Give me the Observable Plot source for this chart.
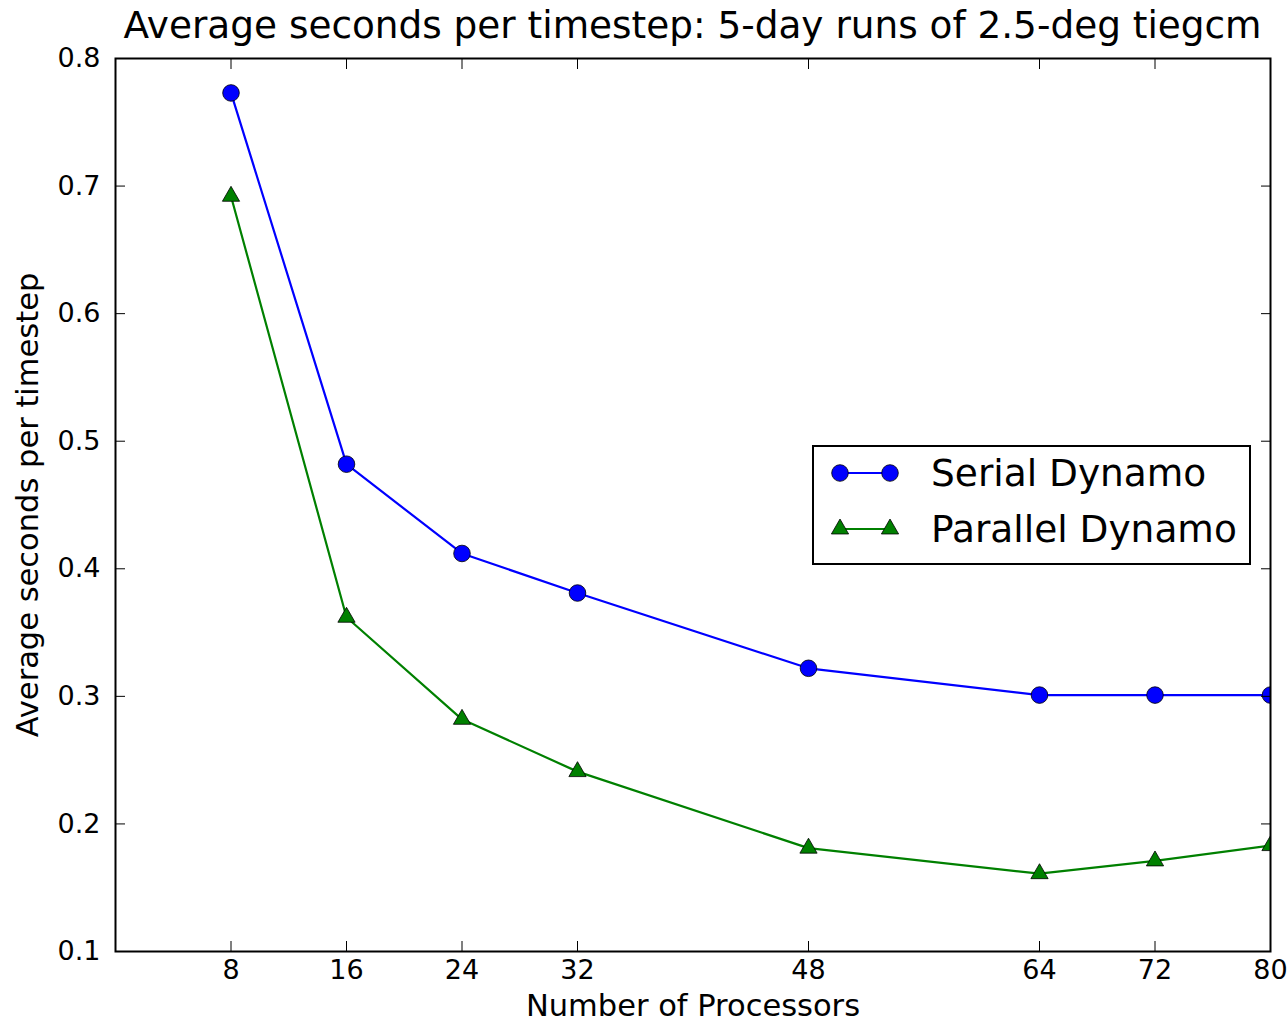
<!DOCTYPE html>
<html><head><meta charset="utf-8">
<script src="https://cdn.jsdelivr.net/npm/d3@7"></script>
<script src="https://cdn.jsdelivr.net/npm/@observablehq/plot@0.6"></script>
<style>
body{margin:0;background:#fff;font-family:"DejaVu Sans",sans-serif;}
#wrap{position:relative;width:1287px;height:1021px;overflow:hidden;}
#chart{position:absolute;left:0;top:0;}
#title{position:absolute;left:115px;top:0;width:1155px;height:50px;line-height:50px;text-align:center;font-size:37.4px;color:#000;white-space:nowrap;z-index:2;}
#legend{position:absolute;left:812px;top:445px;width:435px;height:116px;border:2px solid #000;background:#fff;z-index:2;}
#legend svg{display:block;}
</style></head><body>
<div id="wrap"><div id="chart"></div><div id="title"></div><div id="legend"></div></div>
<script>
const titleText = "Average seconds per timestep: 5-day runs of 2.5-deg tiegcm";
const xLabel = "Number of Processors";
const yLabel = "Average seconds per timestep";
const processors = [8, 16, 24, 32, 48, 64, 72, 80];
const serialDynamo = [0.773, 0.482, 0.412, 0.381, 0.322, 0.301, 0.301, 0.301];
const parallelDynamo = [0.692, 0.362, 0.282, 0.241, 0.181, 0.161, 0.171, 0.183];
const xTicks = [8, 16, 24, 32, 48, 64, 72, 80];
const yTicks = [0.1, 0.2, 0.3, 0.4, 0.5, 0.6, 0.7, 0.8];
const seriesNames = ["Serial Dynamo", "Parallel Dynamo"];
const seriesColors = ["#0000ff", "#008000"];
const seriesSymbols = ["circle", "triangle"];

document.getElementById("title").textContent = titleText;

const serialRows = processors.map((p, i) => ({x: p, y: serialDynamo[i]}));
const parallelRows = processors.map((p, i) => ({x: p, y: parallelDynamo[i]}));

const chart = Plot.plot({
  width: 1287,
  height: 1021,
  marginTop: 58,
  marginBottom: 70,
  marginLeft: 115,
  marginRight: 17,
  style: {fontFamily: "DejaVu Sans", fontSize: "27px", color: "black", background: "white", overflow: "visible"},
  x: {domain: [0, 80]},
  y: {domain: [0.1, 0.8]},
  marks: [
    Plot.line(serialRows, {x: "x", y: "y", stroke: seriesColors[0], strokeWidth: 2.2, clip: true}),
    Plot.line(parallelRows, {x: "x", y: "y", stroke: seriesColors[1], strokeWidth: 2.2, clip: true}),
    Plot.dot(serialRows, {x: "x", y: "y", symbol: seriesSymbols[0], r: 8.3, fill: seriesColors[0], stroke: "black", strokeWidth: 0.8, clip: true}),
    Plot.dot(parallelRows, {x: "x", y: "y", symbol: seriesSymbols[1], r: 6.4, fill: seriesColors[1], stroke: "black", strokeWidth: 0.8, clip: true}),
    Plot.axisX(xTicks, {anchor: "bottom", tickSize: -10, tickPadding: 18, label: null, fontSize: 27}),
    Plot.axisX(xTicks, {anchor: "top", tickSize: -10, tickFormat: () => "", label: null}),
    Plot.axisY(yTicks, {anchor: "left", tickSize: -10, tickPadding: 25, tickFormat: d3.format(".1f"), label: null, fontSize: 27}),
    Plot.axisY(yTicks, {anchor: "right", tickSize: -10, tickFormat: () => "", label: null}),
    Plot.frame({stroke: "black", strokeWidth: 2}),
    Plot.text([xLabel], {frameAnchor: "bottom", dy: 64, fontSize: 30.5, fill: "black", textAnchor: "middle"}),
    Plot.text([yLabel], {frameAnchor: "left", rotate: -90, dx: -87, fontSize: 30.5, fill: "black", textAnchor: "middle"})
  ]
});
document.getElementById("chart").appendChild(chart);

// legend
const lg = d3.select("#legend").append("svg").attr("width", 435).attr("height", 116);
const rowsY = [26, 82];
seriesNames.forEach((name, i) => {
  const y = rowsY[i];
  lg.append("line").attr("x1", 26).attr("x2", 76).attr("y1", y).attr("y2", y)
    .attr("stroke", seriesColors[i]).attr("stroke-width", 2.2);
  const size = i === 0 ? Math.PI * 8.3 * 8.3 : Math.PI * 6.4 * 6.4;
  const sym = i === 0 ? d3.symbolCircle : d3.symbolTriangle;
  [26, 76].forEach(x => {
    lg.append("path").attr("d", d3.symbol(sym, size)()).attr("transform", `translate(${x},${y})`)
      .attr("fill", seriesColors[i]).attr("stroke", "black").attr("stroke-width", 0.8);
  });
  lg.append("text").attr("x", 117).attr("y", y + 13).attr("font-size", 37.5)
    .attr("font-family", "DejaVu Sans").attr("fill", "black").text(name);
});
</script>
</body></html>
